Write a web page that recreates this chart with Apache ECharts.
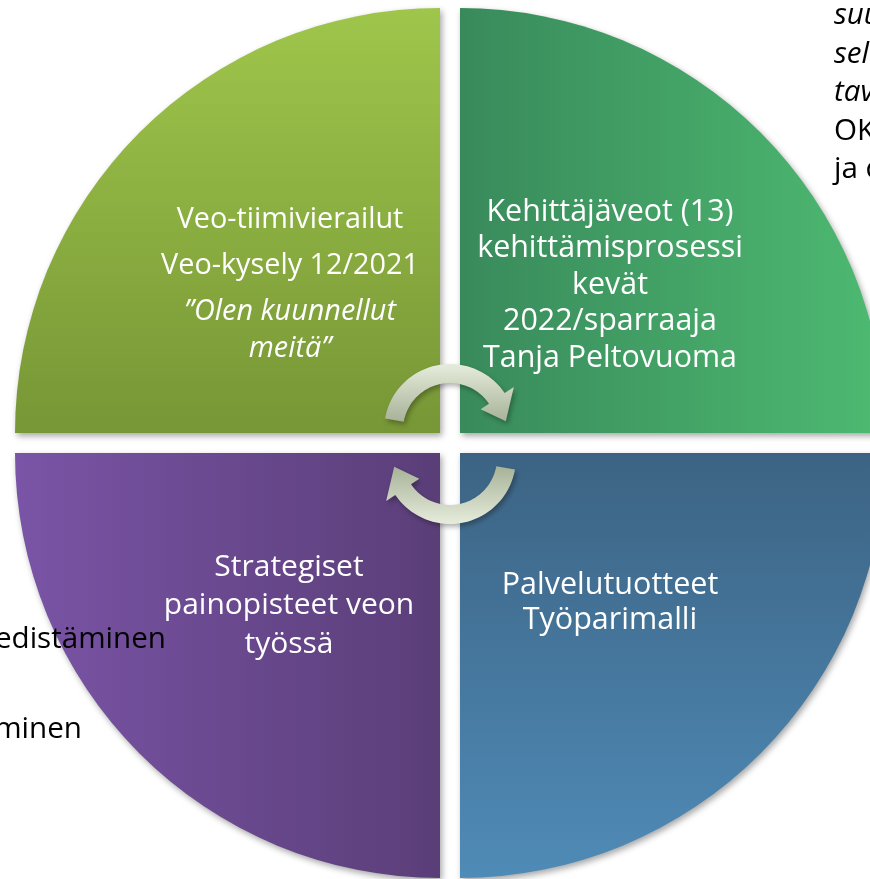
<!DOCTYPE html>
<html><head><meta charset="utf-8">
<script src="https://cdn.jsdelivr.net/npm/echarts@6/dist/echarts.min.js"></script>
<style>html,body{margin:0;padding:0;background:#fff}#c{width:870px;height:879px}</style>
</head><body><div id="c"></div>
<script>
// ---- data ----
var quadrantNames = ['Veo', 'Kehittäjäveot', 'Palvelutuotteet', 'Strategiset'];
var quadrantShares = [1, 1, 1, 1];           // each quadrant = one quarter of the cycle
var tlLines = ['Veo-tiimivierailut', 'Veo-kysely 12/2021', '\u201DOlen kuunnellut', 'meitä\u201D'];
var trLines = ['Kehittäjäveot (13)', 'kehittämisprosessi', 'kevät', '2022/sparraaja', 'Tanja Peltovuoma'];
var brLines = ['Palvelutuotteet', 'Työparimalli'];
var blLines = ['Strategiset', 'painopisteet veon', 'työssä'];
var rightFragments = ['suu', 'sel', 'tav', 'OK', 'ja c'];
var leftFragments = ['edistäminen', 'minen'];

// ---- layout / style ----
var R = 425;
var FONT = '"Open Sans", Lato, sans-serif';
var quads = [
  {center: [440, 433], start: 180, grad: {x:0,y:0,x2:0,y2:1, c:['#9fc64b','#779636']}},
  {center: [460, 433], start: 90,  grad: {x:0,y:0,x2:1,y2:0, c:['#398a5b','#4dba71']}},
  {center: [460, 453], start: 0,   grad: {x:0,y:0,x2:0,y2:1, c:['#3c6383','#4f8bb7']}},
  {center: [440, 453], start: 270, grad: {x:0,y:0,x2:1,y2:0, c:['#7a54a6','#5a3e78']}}
];
var total = quadrantShares.reduce(function(a,b){return a+b;},0);
var series = quads.map(function (q, i) {
  return {
    type: 'pie', silent: true, animation: false,
    center: q.center, radius: [0, R], startAngle: q.start, clockwise: true,
    label: {show: false}, labelLine: {show: false},
    emphasis: {disabled: true},
    data: [
      {name: quadrantNames[i], value: quadrantShares[i], itemStyle: {
        color: {type: 'linear', x: q.grad.x, y: q.grad.y, x2: q.grad.x2, y2: q.grad.y2,
          colorStops: [{offset: 0, color: q.grad.c[0]}, {offset: 1, color: q.grad.c[1]}]},
        shadowBlur: 6, shadowOffsetX: 2, shadowOffsetY: 3, shadowColor: 'rgba(0,0,0,0.35)'}},
      {name: 'rest', value: total - quadrantShares[i], itemStyle: {color: 'rgba(0,0,0,0)'}}
    ]
  };
});

// arrows (decorative block arcs)
function arrowPoints(cx, cy, rOut, rIn, a0, a1, tipA, headOut, headIn) {
  var pts = [], n = 40, d2r = Math.PI / 180, a;
  for (var k = 0; k <= n; k++) { a = (a0 + (a1 - a0) * k / n) * d2r; pts.push([cx + rOut * Math.cos(a), cy + rOut * Math.sin(a)]); }
  a = a1 * d2r; pts.push([cx + headOut * Math.cos(a), cy + headOut * Math.sin(a)]);
  var t = tipA * d2r, rm = (rOut + rIn) / 2; pts.push([cx + rm * Math.cos(t), cy + rm * Math.sin(t)]);
  pts.push([cx + headIn * Math.cos(a), cy + headIn * Math.sin(a)]);
  for (k = n; k >= 0; k--) { a = (a0 + (a1 - a0) * k / n) * d2r; pts.push([cx + rIn * Math.cos(a), cy + rIn * Math.sin(a)]); }
  return pts;
}
function grad(x, y, x2, y2, c0, c1) { return {type:'linear', x:x, y:y, x2:x2, y2:y2, colorStops:[{offset:0,color:c0},{offset:1,color:c1}]}; }
var graphics = [];
graphics.push({type:'polygon', z: 10, shape:{points: arrowPoints(450, 430, 66, 47, -170, -34, -9, 77, 37)},
  style:{fill: grad(0,0,0,1,'#e6ecdb','#a7b298'), shadowBlur:5, shadowOffsetX:2, shadowOffsetY:3, shadowColor:'rgba(0,0,0,0.3)'}});
graphics.push({type:'polygon', z: 10, shape:{points: arrowPoints(450, 458, 66, 47, 10, 146, 171, 77, 37)},
  style:{fill: grad(0,0,0,1,'#a7b298','#e6ecdb'), shadowBlur:5, shadowOffsetX:2, shadowOffsetY:3, shadowColor:'rgba(0,0,0,0.3)'}});

function addText(txt, x, y, opts) {
  opts = opts || {};
  graphics.push({type:'text', z: 20, style:{text: txt, x: x, y: y,
    font: (opts.italic ? 'italic ' : '') + (opts.size || 30) + 'px ' + FONT,
    fill: opts.color || '#ffffff', align: opts.align || 'center', verticalAlign: 'middle'}});
}
var tlY = [220, 266, 312, 349];
tlLines.forEach(function (s, i) { addText(s, 290, tlY[i], {italic: i >= 2, size: 28.8}); });
trLines.forEach(function (s, i) { addText(s, 610, 212 + i * 36.6, {size: 30.4}); });
brLines.forEach(function (s, i) { addText(s, 610, 585 + i * 35, {size: 30.5}); });
blLines.forEach(function (s, i) { addText(s, 289, 567 + i * 38.5, {size: 30}); });
rightFragments.forEach(function (s, i) { addText(s, 834, 16 + i * 38.5, {color:'#000', align:'left', italic: i < 3, size: 29.6}); });
addText(leftFragments[0], 166, 640, {color:'#000', align:'right', size: 29.6});
addText(leftFragments[1], 82, 730, {color:'#000', align:'right', size: 29.6});

var chart = echarts.init(document.getElementById('c'), null, {renderer: 'canvas'});
chart.setOption({animation: false, series: series, graphic: graphics});
</script></body></html>
